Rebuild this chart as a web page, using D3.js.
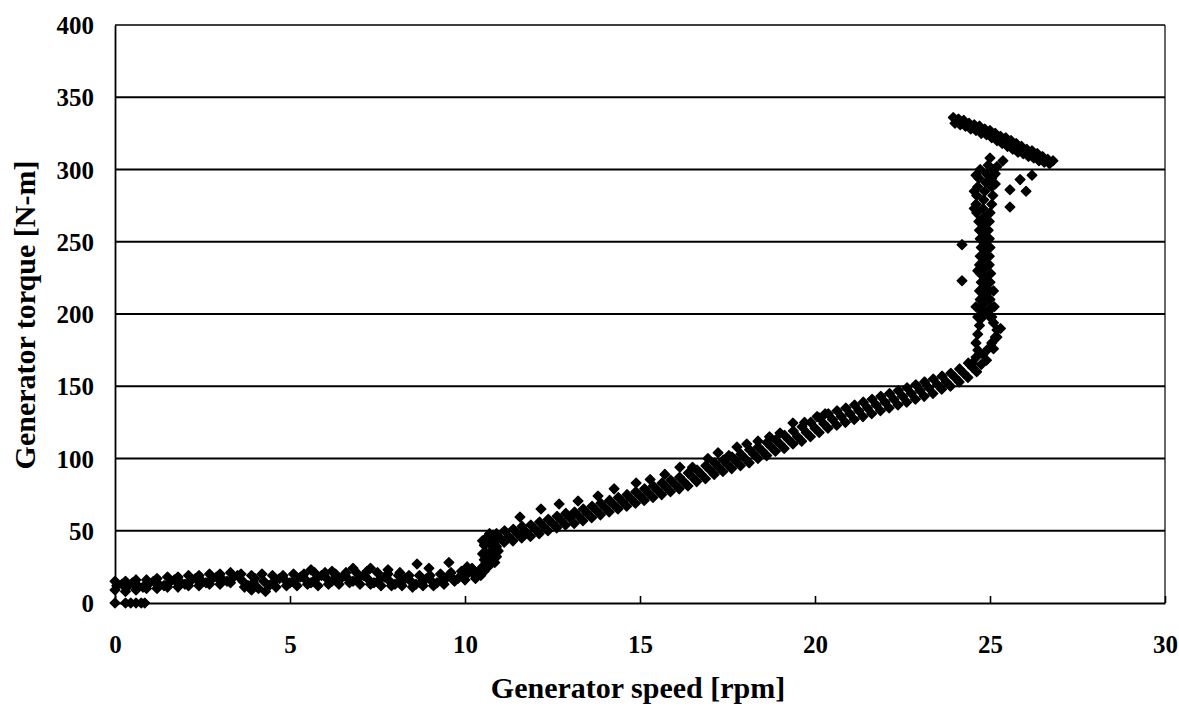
<!DOCTYPE html>
<html>
<head>
<meta charset="utf-8">
<script src="https://cdnjs.cloudflare.com/ajax/libs/d3/7.8.5/d3.min.js"></script>
<style>
  body { margin: 0; background: #fff; }
  text { font-family: "Liberation Serif", "Times New Roman", serif; font-weight: bold; fill: #000; }
</style>
</head>
<body>
<div id="chart"></div>
<script>
// axis ticks
var xTicks = [0, 5, 10, 15, 20, 25, 30];
var yTicks = [0, 50, 100, 150, 200, 250, 300, 350, 400];

// [speed rpm, torque N-m]
var zeroRun = [[0,0],[0.3,0],[0.45,0],[0.6,0],[0.75,0],[0.85,0]];

var lowUpper = [[0,15],[0.3,15],[0.6,16],[0.9,16],[1.2,17],[1.5,18],[1.8,18],[2.1,19],[2.4,19],[2.7,20],[3.0,20],[3.3,21],
  [3.6,20],[3.9,19],[4.2,20],[4.5,19],[4.8,19],[5.1,20],[5.4,20],[5.7,21],[6.0,21],[6.3,20],[6.6,21],[6.9,21],[7.2,22],
  [7.5,21],[7.8,20],[8.1,19],[8.4,19],[8.7,19],[9.0,19],[9.3,20],[9.6,21],[9.9,22],[10.2,24]];
var lowMiddle = [[0.05,12],[0.35,11],[0.65,12],[0.95,13],[1.25,13],[1.55,14],[1.85,15],[2.15,15],[2.45,16],[2.75,16],[3.05,17],
  [3.35,17],[3.65,15],[3.95,14],[4.25,15],[4.55,15],[4.85,16],[5.15,16],[5.45,16],[5.75,17],[6.05,17],[6.35,16],[6.65,17],
  [6.95,17],[7.25,16],[7.55,16],[7.85,15],[8.15,15],[8.45,15],[8.75,14],[9.05,15],[9.35,16],[9.65,17],[9.95,19],[10.25,20]];
var lowLower = [[0,9],[0.3,8],[0.6,9],[0.9,10],[1.2,10],[1.5,11],[1.8,11],[2.1,12],[2.4,12],[2.7,13],[3.0,13],[3.3,14],[3.7,11],
  [3.9,9],[4.1,10],[4.3,8],[4.6,11],[4.9,12],[5.2,12],[5.5,13],[5.8,12],[6.1,13],[6.4,13],[6.7,14],[7.0,13],[7.3,13],[7.6,12],
  [7.9,12],[8.2,12],[8.5,11],[8.8,12],[9.1,12],[9.4,13],[9.7,15],[10.0,16],[10.3,17]];
var lowFill = [[0.2,13],[0.5,14],[0.8,11],[1.1,15],[1.4,12],[1.7,16],[2.0,13],[2.3,17],[2.6,14],[2.9,18],[3.2,15],[3.5,19],
  [3.8,12],[4.0,17],[4.4,12],[4.7,17],[5.0,14],[5.3,18],[5.6,14],[5.9,19],[6.2,15],[6.5,18],[6.8,15],[7.1,19],[7.4,14],
  [7.7,18],[8.0,13],[8.3,17],[8.6,13],[8.9,17],[9.2,14],[9.5,18],[9.8,17],[10.1,21]];
var lowStray = [[5.6,23],[6.2,22],[6.8,24],[7.3,24],[7.8,23],[8.14,21],[8.63,27],[8.97,24],[9.54,28],[10.06,25]];

var stepUp = [[10.4,22],[10.5,25],[10.6,28],[10.7,31],[10.75,34],[10.8,37],[10.75,40],[10.7,43],[10.65,46],[10.55,30],
  [10.6,35],[10.55,40],[10.6,44],[10.85,28],[10.9,32],[10.85,42],[10.8,47],[10.45,19],[10.55,22],[10.95,36],[10.9,39],
  [10.5,34],[10.5,43],[10.7,26],[10.7,48]];

var midUpper = [[10.9,48],[11.13,50],[11.38,51],[11.63,53],[11.88,54],[12.13,56],[12.38,58],[12.63,60],[12.88,62],[13.13,63],
  [13.38,65],[13.63,67],[13.88,69],[14.13,71],[14.38,73],[14.63,75],[14.88,77],[15.13,79],[15.38,81],[15.63,83],[15.88,85],
  [16.13,87],[16.38,90],[16.63,92],[16.88,95],[17.13,97],[17.38,99],[17.63,101],[17.88,103],[18.13,106],[18.38,108],
  [18.63,111],[18.88,113],[19.13,116],[19.38,119],[19.63,122],[19.88,125],[20.13,128],[20.38,131],[20.63,133],[20.88,135],
  [21.13,137],[21.38,139],[21.63,141],[21.88,143],[22.13,145],[22.38,147],[22.63,149],[22.88,151],[23.13,153],[23.38,155],
  [23.63,157],[23.88,159],[24.13,162],[24.38,166]];
var midCenter = [[11.0,45],[11.25,46],[11.5,48],[11.75,49],[12.0,51],[12.25,53],[12.5,55],[12.75,57],[13.0,59],[13.25,60],
  [13.5,62],[13.75,64],[14.0,66],[14.25,68],[14.5,70],[14.75,72],[15.0,74],[15.25,76],[15.5,78],[15.75,80],[16.0,82],
  [16.25,84],[16.5,87],[16.75,89],[17.0,92],[17.25,94],[17.5,96],[17.75,98],[18.0,100],[18.25,103],[18.5,105],[18.75,108],
  [19.0,110],[19.25,113],[19.5,115],[19.75,118],[20.0,121],[20.25,124],[20.5,127],[20.75,129],[21.0,131],[21.25,133],
  [21.5,135],[21.75,137],[22.0,139],[22.25,141],[22.5,143],[22.75,145],[23.0,147],[23.25,149],[23.5,151],[23.75,153],
  [24.0,156],[24.25,159],[24.5,163]];
var midLower = [[11.12,42],[11.37,43],[11.62,45],[11.87,46],[12.12,48],[12.37,50],[12.62,52],[12.87,54],[13.12,55],[13.37,57],
  [13.62,59],[13.87,61],[14.12,63],[14.37,65],[14.62,67],[14.87,69],[15.12,71],[15.37,73],[15.62,75],[15.87,77],[16.12,79],
  [16.37,81],[16.62,84],[16.87,86],[17.12,89],[17.37,91],[17.62,93],[17.87,95],[18.12,97],[18.37,100],[18.62,102],
  [18.87,105],[19.12,107],[19.37,110],[19.62,112],[19.87,115],[20.12,118],[20.37,121],[20.62,123],[20.87,125],[21.12,127],
  [21.37,129],[21.62,131],[21.87,133],[22.12,135],[22.37,137],[22.62,139],[22.87,141],[23.12,143],[23.37,145],[23.62,148],
  [23.87,150],[24.12,153],[24.37,156],[24.62,160]];
var midStray = [[11.57,59.5],[12.17,65],[12.69,68.5],[13.23,70.6],[13.8,74],[14.26,79],[14.89,83],[15.29,85.5],[15.71,89],
  [16.14,94],[16.5,94],[16.94,100],[17.23,104],[17.54,102],[17.77,108],[18.05,110],[18.37,112],[18.7,115],[19.0,117.6],
  [19.37,124.6],[19.7,125],[20.06,129],[20.29,131]];

var loop = [[24.5,166],[24.6,170],[24.65,175],[24.6,180],[24.65,186],[24.7,192],[24.75,197],[24.85,200],[25.0,198],
  [25.1,194],[25.2,189],[25.3,190],[25.15,184],[25.05,180],[24.95,176],[24.8,172],[24.9,168],[24.75,165],[25.1,176],[25.2,184]];

var colLeft = [[24.65,198],[24.7,204],[24.72,210],[24.7,216],[24.75,222],[24.72,228],[24.7,234],[24.72,240],[24.75,246],
  [24.72,252],[24.7,258],[24.68,264],[24.62,270],[24.6,276],[24.62,282],[24.65,288],[24.68,294],[24.72,300],
  [24.55,273],[24.55,285],[24.6,205],[24.65,230],[24.6,296]];
var colMid = [[24.85,201],[24.82,207],[24.85,213],[24.88,219],[24.85,225],[24.82,231],[24.85,237],[24.88,243],[24.85,249],
  [24.82,255],[24.85,261],[24.82,267],[24.8,273],[24.82,279],[24.85,285],[24.88,291],[24.9,297],[24.95,303],[25.0,308]];
var colRight = [[25.05,198],[25.02,204],[25.0,210],[24.98,216],[25.0,222],[25.02,228],[24.98,234],[24.98,240],[25.0,246],
  [24.98,252],[24.95,258],[24.98,264],[25.0,270],[25.05,276],[25.08,282],[25.05,288],[25.05,294],[25.1,300],
  [25.12,205],[25.1,216],[25.15,290],[25.15,297],[25.2,302]];
var colStray = [[24.2,223],[24.2,248],[25.37,306],[25.57,286],[25.86,293],[26.2,296],[26.03,285],[25.57,274]];

var topUpper = [[23.95,336],[24.1,335],[24.25,334],[24.4,332],[24.55,331],[24.7,330],[24.85,328],[25.0,327],[25.15,325],
  [25.3,323],[25.45,322],[25.6,320],[25.75,318],[25.9,316],[26.05,314],[26.2,313],[26.35,311],[26.5,309],[26.65,307],[26.8,306]];
var topLower = [[24.0,332],[24.15,331],[24.3,330],[24.45,328],[24.6,327],[24.75,325],[24.9,324],[25.05,322],[25.2,320],
  [25.35,318],[25.5,316],[25.65,314],[25.8,312],[25.95,311],[26.1,309],[26.25,308],[26.4,306],[26.55,305],[26.7,304]];

var allPoints = [].concat(zeroRun, lowUpper, lowMiddle, lowLower, lowFill, lowStray, stepUp, midUpper,
  midCenter, midLower, midStray, loop, colLeft, colMid, colRight, colStray, topUpper, topLower);

var W = 1179, H = 712;
var margin = {top: 25, right: 14, bottom: 109, left: 115},
    width = W - margin.left - margin.right,
    height = H - margin.top - margin.bottom;

var svg = d3.select("#chart")
  .append("svg")
    .attr("width", W)
    .attr("height", H)
  .append("g")
    .attr("transform", "translate(" + margin.left + "," + margin.top + ")");

var x = d3.scaleLinear().domain([0, 30]).range([0, width]);
var y = d3.scaleLinear().domain([0, 400]).range([height, 0]);

// horizontal gridlines
svg.selectAll(".grid")
  .data(yTicks.filter(function(d){ return d > 0 && d < 400; }))
  .enter().append("line")
    .attr("x1", 0).attr("x2", width)
    .attr("y1", function(d){ return y(d); })
    .attr("y2", function(d){ return y(d); })
    .attr("stroke", "#000")
    .attr("stroke-width", 1.8);

// frame
svg.append("line").attr("x1", 0).attr("x2", width).attr("y1", 0).attr("y2", 0)
  .attr("stroke", "#000").attr("stroke-width", 1.4);
svg.append("line").attr("x1", width).attr("x2", width).attr("y1", 0).attr("y2", height)
  .attr("stroke", "#000").attr("stroke-width", 1.2);

var xAxis = svg.append("g")
  .attr("transform", "translate(0," + height + ")")
  .call(d3.axisBottom(x).tickValues(xTicks).tickSizeInner(-7).tickSizeOuter(0).tickPadding(0));
xAxis.select(".domain").attr("stroke-width", 2.2);
xAxis.selectAll("line").attr("stroke-width", 1.6);
xAxis.selectAll("text")
  .attr("y", 50)
  .attr("dy", 0)
  .attr("font-size", 25);

var yAxis = svg.append("g")
  .call(d3.axisLeft(y).tickValues(yTicks).tickSize(0).tickPadding(21));
yAxis.select(".domain").attr("stroke-width", 1.8);
yAxis.selectAll("text")
  .attr("font-size", 25)
  .attr("dy", "0.34em");

svg.selectAll(".pt")
  .data(allPoints)
  .enter().append("path")
    .attr("class", "pt")
    .attr("d", d3.symbol().type({
      draw: function(ctx, size){
        var r = Math.sqrt(size / 2);
        ctx.moveTo(0, -r); ctx.lineTo(r, 0); ctx.lineTo(0, r); ctx.lineTo(-r, 0); ctx.closePath();
      }
    }).size(46))
    .attr("transform", function(d){ return "translate(" + x(d[0]) + "," + y(d[1]) + ")"; })
    .attr("fill", "#000")
    .attr("stroke", "#000")
    .attr("stroke-width", 1.4)
    .attr("stroke-linejoin", "round");

svg.append("text")
  .attr("x", width / 2 - 2)
  .attr("y", height + 95)
  .attr("text-anchor", "middle")
  .attr("font-size", 30)
  .text("Generator speed [rpm]");

svg.append("text")
  .attr("transform", "translate(" + (-80) + "," + (height / 2 + 1) + ") rotate(-90)")
  .attr("text-anchor", "middle")
  .attr("font-size", 30)
  .text("Generator torque [N-m]");
</script>
</body>
</html>
